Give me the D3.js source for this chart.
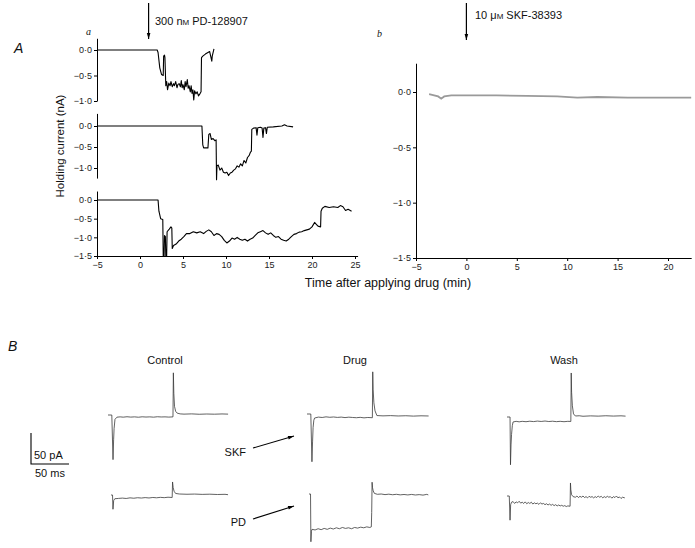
<!DOCTYPE html>
<html><head><meta charset="utf-8">
<script src="https://cdn.jsdelivr.net/npm/d3@7/dist/d3.min.js"></script>
<style>
html,body{margin:0;padding:0;background:#fff;}
svg{display:block;font-family:"Liberation Sans",Arial,sans-serif;}
.tick text{font-size:9px;fill:#222;}
.domain,.tick line{stroke:#000;stroke-width:1;}
</style></head>
<body>
<svg id="chart" width="695" height="548"></svg>
<script>
// ---------------- DATA ----------------
// Panel A: holding current (nA) vs time after applying drug (min)
const xTicksA = [-5, 0, 5, 10, 15, 20, 25];
const xTicksB = [-5, 0, 5, 10, 15, 20];
const yTicksA1 = [0, -0.5, -1.0];
const yTicksA2 = [0, -0.5, -1.0];
const yTicksA3 = [0, -0.5, -1.0, -1.5];
const yTicksB = [0, -0.5, -1.0, -1.5];

const traceA1 = [[-5,0],[2.0,0],[2.1,-0.05],[2.3,-0.35],[2.5,-0.48],[2.7,-0.5],[2.75,-0.12],[2.85,-0.1],[2.9,-0.15],[3.0,-0.7],[3.1,-0.62],[3.2,-0.78],[3.35,-0.65],[3.5,-0.7],[3.6,-0.62],[3.75,-0.72],[3.9,-0.66],[4.0,-0.7],[4.15,-0.62],[4.3,-0.74],[4.4,-0.68],[4.55,-0.66],[4.7,-0.72],[4.8,-0.6],[4.9,-0.74],[5.0,-0.68],[5.15,-0.78],[5.25,-0.62],[5.35,-0.72],[5.5,-0.58],[5.6,-0.75],[5.7,-0.7],[5.85,-0.82],[5.95,-0.7],[6.05,-0.85],[6.15,-0.78],[6.25,-0.98],[6.35,-0.8],[6.5,-0.86],[6.65,-0.82],[6.8,-0.9],[7.0,-0.85],[7.1,-0.82],[7.15,-0.15],[7.3,-0.12],[7.6,-0.08],[7.9,-0.05],[8.1,-0.03],[8.35,-0.22],[8.4,-0.12],[8.6,0.02]];

const traceA2 = [[-5,0],[7.2,0],[7.3,-0.45],[7.4,-0.52],[7.9,-0.52],[8.0,-0.2],[8.15,-0.18],[8.3,-0.32],[8.5,-0.3],[8.7,-0.35],[8.85,-0.33],[8.9,-1.28],[8.95,-0.95],[9.1,-0.93],[9.3,-1.05],[9.5,-1.0],[9.7,-1.1],[9.9,-1.12],[10.1,-1.1],[10.3,-1.18],[10.5,-1.12],[10.7,-1.1],[10.9,-1.05],[11.1,-1.02],[11.3,-0.95],[11.5,-0.98],[11.7,-0.9],[11.9,-0.95],[12.1,-0.82],[12.3,-0.88],[12.5,-0.75],[12.7,-0.7],[12.85,-0.62],[12.95,-0.6],[13.0,-0.08],[13.2,-0.05],[13.5,-0.04],[13.6,-0.22],[13.7,-0.04],[14.0,-0.03],[14.2,-0.05],[14.3,-0.27],[14.4,-0.05],[14.6,-0.04],[14.7,-0.18],[14.8,-0.03],[15.5,-0.02],[16.5,0.0],[16.8,0.03],[17.1,0.0],[17.8,-0.02]];

const traceA3 = [[-5,0],[2.1,0],[2.2,-0.3],[2.4,-0.5],[2.65,-0.52],[2.7,-1.5],[2.8,-1.5],[2.85,-0.95],[2.95,-0.98],[3.0,-1.5],[3.1,-1.5],[3.15,-0.85],[3.4,-0.78],[3.6,-0.72],[3.7,-0.75],[3.75,-1.3],[3.9,-1.22],[4.2,-1.18],[4.5,-1.1],[4.8,-1.05],[5.1,-0.98],[5.4,-0.9],[5.8,-0.9],[6.2,-0.85],[6.6,-0.88],[7.0,-0.85],[7.4,-0.9],[7.7,-0.84],[8.0,-0.8],[8.3,-0.85],[8.6,-0.95],[8.9,-0.9],[9.2,-0.92],[9.5,-0.98],[9.8,-1.08],[10.1,-1.15],[10.4,-1.1],[10.7,-1.02],[11.0,-1.05],[11.3,-1.0],[11.6,-1.05],[11.9,-1.08],[12.2,-1.05],[12.5,-1.1],[12.8,-1.05],[13.1,-1.02],[13.4,-0.95],[13.7,-0.88],[14.0,-0.85],[14.3,-0.82],[14.6,-0.88],[14.9,-0.92],[15.2,-0.88],[15.5,-0.95],[15.8,-1.0],[16.1,-0.98],[16.4,-1.05],[16.7,-1.08],[17.0,-1.1],[17.3,-1.05],[17.6,-0.98],[17.9,-0.92],[18.2,-0.9],[18.5,-0.86],[18.8,-0.85],[19.1,-0.82],[19.4,-0.8],[19.7,-0.78],[20.0,-0.72],[20.3,-0.6],[20.5,-0.65],[20.7,-0.7],[21.0,-0.72],[21.05,-0.3],[21.2,-0.22],[21.5,-0.17],[22.0,-0.2],[22.5,-0.18],[23.0,-0.2],[23.3,-0.15],[23.6,-0.18],[23.9,-0.28],[24.2,-0.25],[24.6,-0.3]];

const traceB = [[-3.7,-0.02],[-3.2,-0.03],[-2.8,-0.04],[-2.5,-0.06],[-2.2,-0.04],[-1.5,-0.03],[0,-0.03],[3,-0.03],[6,-0.035],[9,-0.04],[11,-0.05],[13,-0.045],[16,-0.05],[19,-0.05],[22.3,-0.05]];

// Panel B: current responses (time in ms, current in pA, relative to trace start)
const conditions = ["Control", "Drug", "Wash"];
const drugs = ["SKF", "PD"];
const scaleBar = {pA: 50, ms: 50};

const ctrlSKF = [[0,0],[5,0],[6.6,-72],[7.4,-40],[8,-22],[9.2,-7],[11.8,-3.5],[16,-3],[20,-3.5],[25,-2.8],[30,-3.4],[35,-3],[40,-3.6],[45,-2.9],[50,-3.3],[55,-3],[60,-3.5],[65,-2.8],[70,-3.2],[75,-3],[80,-3.4],[85.5,-3],[86,68],[86.6,35],[87.5,14],[89,6],[91,3],[95,1.8],[100,1.4],[110,1.8],[120,1.2],[130,1.6],[140,1.3],[150,1.7],[158,1.4]];
const ctrlPD = [[0,0],[2,0],[2.6,-23],[3.5,-9],[5,-6],[10,-5.5],[15,-5],[20,-5.6],[25,-4.6],[30,-5.2],[35,-4.4],[40,-4.9],[45,-4.2],[50,-4.8],[55,-4],[60,-4.5],[65,-3.8],[70,-4.3],[75,-3.6],[80.5,-4],[81,21],[81.8,12],[83,6],[85,2.5],[90,1.6],[100,1.2],[110,1.5],[120,1],[130,1.3],[140,0.8],[150,1.1],[154,0.5]];
const drugSKF = [[0,0],[5,0],[6.5,-77],[7.3,-45],[8,-22],[9,-10],[10,-6.5],[15,-5],[20,-5.6],[25,-4.6],[30,-5.3],[35,-4.8],[40,-5.5],[45,-5],[50,-5.8],[55,-5.1],[60,-5.6],[65,-6],[70,-5.4],[75,-6.2],[80,-5.6],[86,-6],[86.5,68],[87,40],[88,18],[89.5,5],[92,-2.5],[100,-3],[110,-2.6],[120,-3.2],[130,-2.8],[140,-3.4],[150,-2.9],[160,-3.2]];
const drugPD = [[0,0],[2,0],[2.5,-77],[3.2,-60],[4,-57],[8,-58],[12,-56],[16,-57.5],[20,-55.5],[24,-57],[28,-55],[32,-56.5],[36,-54.5],[40,-56],[44,-54],[48,-55.5],[52,-54.5],[56,-56],[60,-54],[64,-55],[68,-53.5],[72,-54.5],[76,-53],[80,-54],[82,-53],[82.5,-30],[83,19],[83.6,10],[84.5,5],[86,1],[90,-0.5],[95,0],[100,-1],[105,-0.3],[110,-1.2],[115,-0.5],[120,-1.4],[125,-0.8],[130,-1.5],[135,-0.7],[140,-1.6],[145,-1],[150,-1.8],[155,-0.6],[157,-1.5]];
const washSKF = [[0,0],[4,0],[4.6,-77],[5.3,-45],[6,-28],[7,-14],[8,-8],[12,-7],[16,-7.8],[20,-7],[25,-7.6],[30,-6.8],[35,-7.4],[40,-6.6],[45,-7.2],[50,-6.5],[55,-7.3],[60,-6.8],[65,-7.5],[70,-7],[75,-7.6],[80,-7],[84,-7.2],[84.5,71],[85,40],[86,18],[87.5,5],[90,1.6],[95,2],[100,1.2],[110,1.8],[120,1.4],[130,2],[140,1.5],[150,1.9],[156,1.4]];
const washPD = [[0,0],[3,0],[4,-39],[4.8,-14],[6,-10],[8,-9],[10,-12],[12,-9.5],[14,-11],[16,-8.5],[18,-11.5],[20,-10],[22,-12],[24,-9.5],[26,-12.5],[28,-10.5],[30,-12],[32,-10],[34,-13],[36,-11],[38,-12.5],[40,-11.5],[42,-13.5],[44,-11],[46,-13],[48,-12],[50,-14],[52,-12.5],[54,-14.5],[56,-13],[58,-15],[60,-13.5],[62,-15.5],[64,-14],[66,-16],[68,-14.5],[70,-16],[72,-15],[74,-16.5],[76,-15.5],[78,-17],[80,-16],[83,-16.5],[83.5,21],[84,10],[85,2],[87,-1],[90,-2],[92,0],[94,-2.5],[96,-0.5],[98,-2],[100,0],[102,-2.5],[104,-1],[106,-3],[108,-0.5],[110,-2],[112,-1],[114,-3],[116,-1],[118,-2.5],[120,0],[122,-2],[124,-0.5],[126,-3],[128,-1],[130,-2.5],[132,-0.5],[134,-2],[136,-1],[138,-3.5],[140,-1],[142,-2.5],[144,0],[146,-3],[148,-1.5],[150,-4],[152,-2],[155,-3]];

// ---------------- DRAW ----------------
const svg = d3.select("#chart");
const fmtY = d => (d < 0 ? "\u2212" : "") + Math.abs(d).toFixed(1).replace(".", "\u00b7");
const fmtX = d => (d < 0 ? "\u2212" : "") + Math.abs(d);

svg.append("defs").append("marker")
  .attr("id", "ah").attr("viewBox", "0 0 10 10").attr("refX", 10).attr("refY", 5)
  .attr("markerWidth", 7).attr("markerHeight", 6).attr("orient", "auto-start-reverse")
  .attr("markerUnits", "userSpaceOnUse")
  .append("path").attr("d", "M0,2 L10,5 L0,8 Z").attr("fill", "#000");

// Panel A (a)
const xA = d3.scaleLinear().domain([-5, 25]).range([97, 355]);
const subA = [
  {data: traceA1, ticks: yTicksA1, dom: [-1.0, 0], rng: [101, 50], ext: [-1.0, 0.23]},
  {data: traceA2, ticks: yTicksA2, dom: [-1.0, 0], rng: [168, 126], ext: [-1.24, 0.3]},
  {data: traceA3, ticks: yTicksA3, dom: [-1.5, 0], rng: [256, 200], ext: [-1.5, 0.24]}
];
subA.forEach((s, i) => {
  const y = d3.scaleLinear().domain(s.dom).range(s.rng);
  const yAx = y.copy().domain(s.ext).range([y(s.ext[0]), y(s.ext[1])]);
  svg.append("g").attr("transform", `translate(${xA(-5)},0)`)
    .call(d3.axisLeft(yAx).tickValues(s.ticks).tickFormat(fmtY).tickSize(3).tickSizeOuter(0).tickPadding(2));
  svg.append("path").datum(s.data)
    .attr("fill", "none").attr("stroke", "#000").attr("stroke-width", 1.1).attr("stroke-linejoin", "round")
    .attr("d", d3.line().x(d => xA(d[0])).y(d => y(d[1])));
  if (i === 2) {
    svg.append("g").attr("transform", `translate(0,${y(-1.5)})`)
      .call(d3.axisBottom(xA.copy().domain([-5, 25.3]).range([97, xA(25.3)])).tickValues(xTicksA).tickFormat(fmtX).tickSize(3).tickSizeOuter(0).tickPadding(3));
  }
});

// Panel A (b)
const xB = d3.scaleLinear().domain([-5, 20]).range([416, 668]);
const yB = d3.scaleLinear().domain([-1.5, 0]).range([258, 92]);
svg.append("g").attr("transform", `translate(${xB(-5)},0)`)
  .call(d3.axisLeft(yB.copy().domain([-1.5, 0.26]).range([yB(-1.5), yB(0.26)])).tickValues(yTicksB).tickFormat(fmtY).tickSize(3).tickSizeOuter(0).tickPadding(2));
svg.append("g").attr("transform", `translate(0,${yB(-1.5)})`)
  .call(d3.axisBottom(xB.copy().domain([-5, 22.3]).range([xB(-5), xB(22.3)])).tickValues(xTicksB).tickFormat(fmtX).tickSize(3).tickSizeOuter(0).tickPadding(3));
svg.append("path").datum(traceB)
  .attr("fill", "none").attr("stroke", "#9a9a9a").attr("stroke-width", 1.8)
  .attr("d", d3.line().x(d => xB(d[0])).y(d => yB(d[1])));

// Labels panel A
const txt = (x, y, s, o = {}) => svg.append("text").attr("x", x).attr("y", y)
  .attr("font-size", o.size || 10).attr("text-anchor", o.anchor || "start")
  .attr("font-style", o.style || "normal").attr("font-family", o.family || null)
  .attr("fill", "#111").attr("transform", o.rot ? `rotate(-90,${x},${y})` : null).text(s);

txt(14, 53, "A", {size: 14, style: "italic"});
txt(86, 35, "a", {size: 10, style: "italic", family: "Liberation Serif, serif"});
txt(377, 37, "b", {size: 10, style: "italic", family: "Liberation Serif, serif"});
txt(64, 146, "Holding current (nA)", {size: 11.5, anchor: "middle", rot: true});
txt(388, 287, "Time after applying drug (min)", {size: 12.5, anchor: "middle"});

// drug application arrows
svg.append("line").attr("x1", xA(1)).attr("x2", xA(1)).attr("y1", 3).attr("y2", 39)
  .attr("stroke", "#000").attr("stroke-width", 1.2).attr("marker-end", "url(#ah)");
const t1 = svg.append("text").attr("x", 155).attr("y", 25).attr("font-size", 11).attr("fill", "#111");
t1.append("tspan").text("300 n");
t1.append("tspan").attr("font-size", 8).text("M");
t1.append("tspan").text(" PD-128907");
svg.append("line").attr("x1", xB(0)).attr("x2", xB(0)).attr("y1", 3).attr("y2", 40)
  .attr("stroke", "#000").attr("stroke-width", 1.2).attr("marker-end", "url(#ah)");
const t2 = svg.append("text").attr("x", 475).attr("y", 19).attr("font-size", 11).attr("fill", "#111");
t2.append("tspan").text("10 \u03bc");
t2.append("tspan").attr("font-size", 8).text("M");
t2.append("tspan").text(" SKF-38393");

// Panel B
txt(8, 351, "B", {size: 14, style: "italic"});
const condX = [165, 355, 564];
conditions.forEach((c, i) => txt(condX[i], 364, c, {size: 11, anchor: "middle"}));

const kx = 0.76, ky = 0.62; // px per ms, px per pA
const traces = [
  {d: ctrlSKF, ox: 108, oy: 415}, {d: ctrlPD, ox: 111, oy: 495},
  {d: drugSKF, ox: 307, oy: 414}, {d: drugPD, ox: 309, oy: 494},
  {d: washSKF, ox: 507, oy: 417}, {d: washPD, ox: 507, oy: 496}
];
traces.forEach(t => {
  const x = d3.scaleLinear().domain([0, 1]).range([t.ox, t.ox + kx]);
  const y = d3.scaleLinear().domain([0, 1]).range([t.oy, t.oy - ky]);
  svg.append("path").datum(t.d).attr("fill", "none").attr("stroke", "#3a3a3a").attr("stroke-width", 0.8)
    .attr("d", d3.line().x(d => x(d[0])).y(d => y(d[1])));
});

// scale bar
const sbx = d3.scaleLinear().domain([0, 1]).range([31, 31 + kx]);
const sby = d3.scaleLinear().domain([0, 1]).range([464, 464 - ky]);
svg.append("path").attr("fill", "none").attr("stroke", "#000").attr("stroke-width", 1.1)
  .attr("d", `M${sbx(0)},${sby(scaleBar.pA)} L${sbx(0)},${sby(0)} L${sbx(scaleBar.ms)},${sby(0)}`);
txt(34, 459, scaleBar.pA + " pA", {size: 11});
txt(35, 477, scaleBar.ms + " ms", {size: 11});

// drug labels and arrows in panel B
const arrowY = [[452, 448, 436], [522, 519, 506]];
drugs.forEach((dname, i) => {
  txt(246, arrowY[i][0] + 4, dname, {size: 11, anchor: "end"});
  svg.append("line").attr("x1", 253).attr("y1", arrowY[i][1]).attr("x2", 294).attr("y2", arrowY[i][2])
    .attr("stroke", "#000").attr("stroke-width", 1.1).attr("marker-end", "url(#ah)");
});
</script>
</body></html>
